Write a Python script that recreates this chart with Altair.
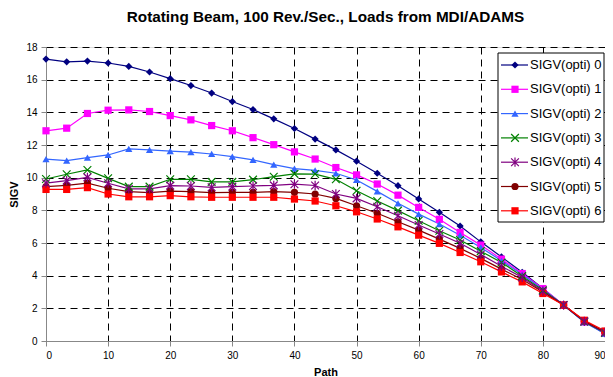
import altair as alt
import pandas as pd

path = [0, 3.33, 6.67, 10, 13.33, 16.67, 20, 23.33, 26.67, 30, 33.33, 36.67, 40, 43.33,
        46.67, 50, 53.33, 56.67, 60, 63.33, 66.67, 70, 73.33, 76.67, 80, 83.33, 86.67, 90]

names = ["SIGV(opti) 0", "SIGV(opti) 1", "SIGV(opti) 2", "SIGV(opti) 3",
         "SIGV(opti) 4", "SIGV(opti) 5", "SIGV(opti) 6"]

s0 = [17.26, 17.09, 17.14, 17.02, 16.81, 16.47, 16.06, 15.64, 15.18, 14.66, 14.17, 13.60, 13.01, 12.36,
      11.70, 11.01, 10.27, 9.51, 8.70, 7.88, 7.04, 6.07, 5.15, 4.21, 3.21, 2.19, 1.21, 0.45]
s1 = [12.87, 13.03, 13.93, 14.13, 14.15, 14.05, 13.80, 13.54, 13.19, 12.87, 12.45, 12.02, 11.58, 11.14,
      10.62, 10.17, 9.61, 8.93, 8.18, 7.45, 6.65, 5.87, 5.01, 4.13, 3.21, 2.20, 1.17, 0.48]
s2 = [11.13, 11.04, 11.23, 11.39, 11.76, 11.70, 11.62, 11.56, 11.45, 11.29, 11.09, 10.80, 10.55, 10.45,
      10.27, 9.86, 9.16, 8.43, 7.77, 7.16, 6.48, 5.73, 4.91, 4.07, 3.16, 2.20, 1.15, 0.45]
s3 = [9.92, 10.21, 10.47, 9.96, 9.45, 9.45, 9.90, 9.90, 9.74, 9.74, 9.88, 10.06, 10.23, 10.22,
      9.90, 9.20, 8.57, 7.98, 7.36, 6.75, 6.18, 5.50, 4.81, 3.97, 3.10, 2.20, 1.18, 0.50]
s4 = [9.66, 9.82, 10.02, 9.66, 9.31, 9.31, 9.51, 9.49, 9.41, 9.45, 9.49, 9.53, 9.60, 9.52,
      9.00, 8.73, 8.22, 7.67, 7.10, 6.55, 5.98, 5.30, 4.58, 3.89, 3.05, 2.20, 1.20, 0.52]
s5 = [9.45, 9.53, 9.66, 9.35, 9.14, 9.08, 9.18, 9.14, 9.08, 9.10, 9.10, 9.14, 9.10, 9.00,
      8.73, 8.28, 7.82, 7.30, 6.79, 6.24, 5.67, 5.06, 4.40, 3.77, 3.00, 2.20, 1.22, 0.55]
s6 = [9.28, 9.28, 9.39, 9.00, 8.83, 8.83, 8.90, 8.83, 8.80, 8.80, 8.80, 8.80, 8.69, 8.57,
      8.28, 7.91, 7.47, 6.99, 6.48, 5.98, 5.42, 4.85, 4.23, 3.62, 2.91, 2.20, 1.27, 0.61]

series = [s0, s1, s2, s3, s4, s5, s6]
colors = ["#000080", "#FF00FF", "#3366FF", "#008000", "#800080", "#800000", "#FF0000"]
XPATH = "M-1,-1L1,1M-1,1L1,-1"
STAR = "M-1,-1L1,1M-1,1L1,-1M0,-1.2L0,1.2"
shapes = ["diamond", "square", "triangle-up", XPATH, STAR, "circle", "square"]
hollow = ["SIGV(opti) 3", "SIGV(opti) 4"]

x_ticks = [0, 10, 20, 30, 40, 50, 60, 70, 80, 90]
y_ticks = [0, 2, 4, 6, 8, 10, 12, 14, 16, 18]

rows = []
for n, vals in zip(names, series):
    for p, v in zip(path, vals):
        rows.append({"path": p, "sigv": v, "series": n})
df = pd.DataFrame(rows)
leg = pd.DataFrame({"series": names, "i": list(range(len(names)))})

FONT = "Liberation Sans"
color = alt.Color("series:N", scale=alt.Scale(domain=names, range=colors), legend=None)
shape = alt.Shape("series:N", scale=alt.Scale(domain=names, range=shapes), legend=None)

X = alt.X("path:Q", scale=alt.Scale(domain=[0, 90], nice=False),
          axis=alt.Axis(values=x_ticks, title="Path", titleY=34, titleBaseline="alphabetic",
                        grid=True, gridDash=[7, 5], gridColor="black", gridWidth=1, labelPadding=4))
Y = alt.Y("sigv:Q", scale=alt.Scale(domain=[0, 18], nice=False),
          axis=alt.Axis(values=y_ticks, title="SIGV", titlePadding=6, grid=True,
                        gridDash=[7, 5], gridColor="black", gridWidth=1, labelPadding=4))

base = alt.Chart(df)
lines = base.mark_line(strokeWidth=1.2).encode(x=X, y=Y, color=color, detail="series:N")
filled = base.transform_filter(
    alt.FieldOneOfPredicate(field="series", oneOf=[n for n in names if n not in hollow])
).mark_point(filled=True, size=52, opacity=1).encode(x=X, y=Y, color=color, shape=shape)
open_pts = base.transform_filter(
    alt.FieldOneOfPredicate(field="series", oneOf=hollow)
).mark_point(filled=False, size=60, strokeWidth=1.2, opacity=1).encode(x=X, y=Y, color=color, shape=shape)

lbase = alt.Chart(leg).transform_calculate(ly="18 + datum.i * 24.3")
box = alt.Chart(pd.DataFrame({"a": [1]})).mark_rect(
    fill="white", stroke="black", strokeWidth=1
).encode(x=alt.value(452), x2=alt.value(558), y=alt.value(6), y2=alt.value(175))
lrule = lbase.mark_rule(strokeWidth=1.2).encode(
    x=alt.value(455), x2=alt.value(482), y=alt.Y("ly:Q", scale=None), color=color)
lpt_f = lbase.transform_filter(
    alt.FieldOneOfPredicate(field="series", oneOf=[n for n in names if n not in hollow])
).mark_point(filled=True, size=52, opacity=1).encode(
    x=alt.value(469), y=alt.Y("ly:Q", scale=None), color=color, shape=shape)
lpt_o = lbase.transform_filter(
    alt.FieldOneOfPredicate(field="series", oneOf=hollow)
).mark_point(filled=False, size=60, strokeWidth=1.2, opacity=1).encode(
    x=alt.value(469), y=alt.Y("ly:Q", scale=None), color=color, shape=shape)
ltext = lbase.mark_text(align="left", baseline="middle", fontSize=13, font=FONT, color="black").encode(
    x=alt.value(484), y=alt.Y("ly:Q", scale=None), text="series:N")

chart = alt.layer(lines, filled, open_pts, box, lrule, lpt_f, lpt_o, ltext).properties(
    width=559, height=294,
    title=alt.TitleParams("Rotating Beam, 100 Rev./Sec., Loads from MDI/ADAMS",
                          font=FONT, fontSize=15.3, fontWeight="bold", anchor="middle",
                          offset=17, color="black"),
    autosize=alt.AutoSizeParams(type="none"),
    padding={"left": 38, "top": 39, "right": 0, "bottom": 36},
).configure_view(stroke=None).configure_axis(
    domainColor="black", domainWidth=1.5, tickColor="black", tickSize=5, tickWidth=1,
    labelFont=FONT, labelFontSize=10, labelColor="black",
    titleFont=FONT, titleFontSize=14, titleFontWeight="bold", titleColor="black",
).configure(background="white")

chart.save("out.html", embed_options={"renderer": "svg", "actions": False})
